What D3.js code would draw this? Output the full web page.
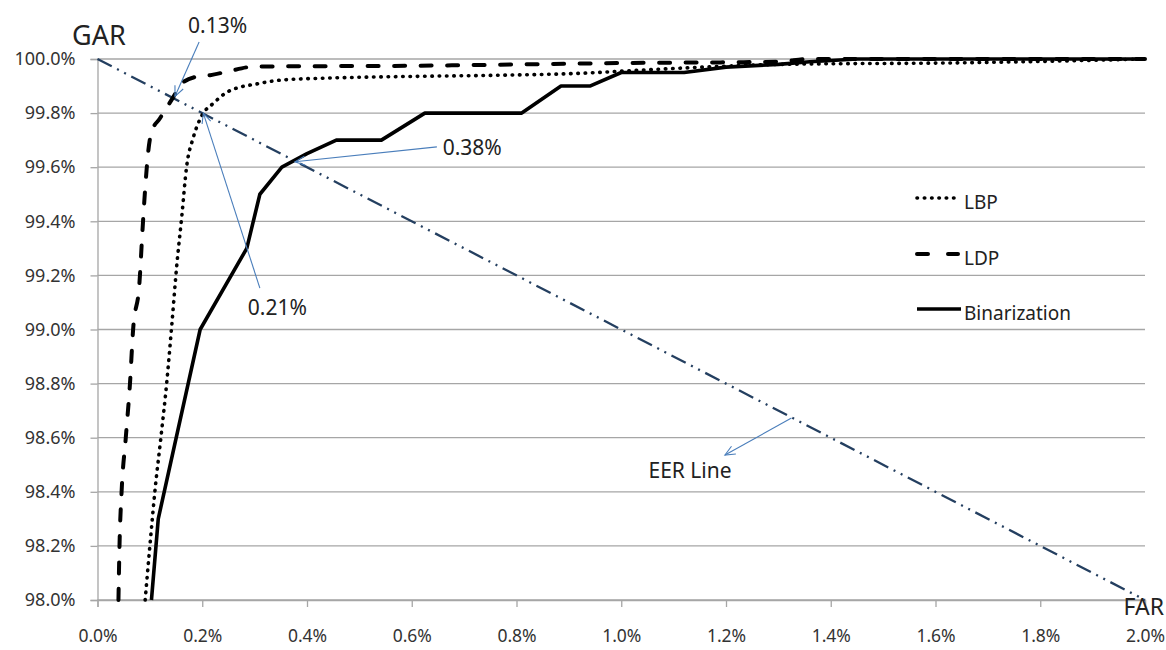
<!DOCTYPE html>
<html>
<head>
<meta charset="utf-8">
<script src="https://cdn.jsdelivr.net/npm/d3@7"></script>
<style>
  body { margin: 0; background: #fff; }
  svg text { font-family: "Noto Sans", "DejaVu Sans", sans-serif; fill: #262626; }
</style>
</head>
<body>
<div id="chart"></div>
<script>
// tick values (percent)
var farTicks = [0.0, 0.2, 0.4, 0.6, 0.8, 1.0, 1.2, 1.4, 1.6, 1.8, 2.0];
var garTicks = [98.0, 98.2, 98.4, 98.6, 98.8, 99.0, 99.2, 99.4, 99.6, 99.8, 100.0];

// LBP (dotted)
var lbpFar = [0.091, 0.100, 0.110, 0.121, 0.132, 0.142, 0.151, 0.161, 0.170, 0.183, 0.199, 0.221, 0.250, 0.310, 0.350, 0.450, 0.580, 0.770, 0.920, 1.020, 1.180, 1.300, 1.650, 1.850, 2.000];
var lbpGar = [98.00, 98.20, 98.41, 98.60, 98.80, 99.02, 99.23, 99.42, 99.60, 99.71, 99.79, 99.836, 99.88, 99.91, 99.922, 99.930, 99.935, 99.940, 99.947, 99.957, 99.972, 99.980, 99.986, 99.993, 100.0];

// LDP (dashed)
var ldpFar = [0.040, 0.042, 0.046, 0.054, 0.062, 0.068, 0.080, 0.086, 0.091, 0.097, 0.103, 0.119, 0.145, 0.161, 0.190, 0.215, 0.247, 0.300, 0.600, 1.000, 1.300, 1.360, 2.000];
var ldpGar = [98.00, 98.20, 98.40, 98.60, 98.80, 99.00, 99.17, 99.37, 99.52, 99.66, 99.73, 99.78, 99.86, 99.91, 99.935, 99.94, 99.953, 99.972, 99.975, 99.985, 99.99, 100.0, 100.0];

// Binarization (solid)
var binFar = [0.103, 0.116, 0.196, 0.285, 0.310, 0.352, 0.400, 0.456, 0.542, 0.625, 0.810, 0.885, 0.940, 1.000, 1.120, 1.200, 1.300, 1.360, 1.450, 2.000];
var binGar = [98.00, 98.30, 99.00, 99.30, 99.50, 99.60, 99.65, 99.70, 99.70, 99.80, 99.80, 99.90, 99.90, 99.95, 99.95, 99.97, 99.98, 99.99, 100.0, 100.0];

// EER line
var eerFar = [0.0, 2.0];
var eerGar = [100.0, 98.0];

var seriesNames = ['LBP', 'LDP', 'Binarization'];

// callouts: label anchor + arrow (tail -> tip), in FAR/GAR units
var noteText = ['0.13%', '0.21%', '0.38%', 'EER Line'];
var noteFar = [0.173, 0.287, 0.659, 1.052];
var noteGar = [100.096, 99.054, 99.645, 98.451];
var arrowFromFar = [0.194, 0.310, 0.648, 1.325];
var arrowFromGar = [100.063, 99.153, 99.675, 98.673];
var arrowToFar = [0.148, 0.202, 0.377, 1.198];
var arrowToGar = [99.862, 99.80, 99.62, 98.536];

var width = 1166, height = 650;
var gridColor = '#a6a6a6';

var x = d3.scaleLinear().domain([0, 2]).range([97.5, 1145]);
var y = d3.scaleLinear().domain([98, 100]).range([600, 59]);

var svg = d3.select('#chart').append('svg')
    .attr('width', width).attr('height', height);

function zip(fa, ga) {
    return fa.map(function(f, i) { return [f, ga[i]]; });
}

/* gridlines */
svg.append('g').selectAll('line').data(garTicks).enter().append('line')
    .attr('x1', x(0)).attr('x2', x(2))
    .attr('y1', function(d) { return y(d); }).attr('y2', function(d) { return y(d); })
    .style('stroke', gridColor).style('stroke-width', 1.3);

/* axes */
var yAxis = d3.axisLeft(y).tickValues(garTicks).tickSize(7).tickPadding(15)
    .tickFormat(function(d) { return d3.format('.1f')(d) + '%'; });
var xAxis = d3.axisBottom(x).tickValues(farTicks).tickSize(7).tickPadding(23)
    .tickFormat(function(d) { return d3.format('.1f')(d) + '%'; });

var gy = svg.append('g').attr('transform', 'translate(' + x(0) + ',0)').call(yAxis);
var gx = svg.append('g').attr('transform', 'translate(0,' + y(98) + ')').call(xAxis);
[gx, gy].forEach(function(g) {
    g.select('.domain').style('stroke', gridColor).style('stroke-width', 1.3);
    g.selectAll('.tick line').style('stroke', gridColor).style('stroke-width', 1.3);
    g.selectAll('.tick text').style('font-size', '18px').style('fill', '#333')
        .style('font-family', '"Noto Sans", sans-serif');
});
gx.selectAll('.tick text').style('font-size', '17.5px');

/* EER line */
var line = d3.line().x(function(d) { return x(d[0]); }).y(function(d) { return y(d[1]); });
var smooth = d3.line().curve(d3.curveMonotoneX)
    .x(function(d) { return x(d[0]); }).y(function(d) { return y(d[1]); });

svg.append('path').datum(zip(eerFar, eerGar)).attr('d', line)
    .style('fill', 'none').style('stroke', '#243f60').style('stroke-width', 2.3)
    .style('stroke-dasharray', '16,6,2,6,2,6');

/* series */
var styles = [
    { dash: '0.5,6.8', width: 3.6, cap: 'round' },
    { dash: '11,15.5', width: 4, cap: 'round' },
    { dash: null, width: 3.6, cap: 'butt' }
];
var seriesData = [zip(lbpFar, lbpGar), zip(ldpFar, ldpGar), zip(binFar, binGar)];

seriesData.forEach(function(data, i) {
    svg.append('path').datum(data)
        .attr('d', i === 2 ? line : smooth)
        .style('fill', 'none').style('stroke', '#000')
        .style('stroke-width', styles[i].width)
        .style('stroke-linecap', styles[i].cap)
        .style('stroke-linejoin', 'round')
        .style('stroke-dasharray', styles[i].dash);
});

/* arrows */
svg.append('defs').append('marker')
    .attr('id', 'openArrow').attr('viewBox', '-12 -7 14 14')
    .attr('refX', 0).attr('refY', 0)
    .attr('markerWidth', 14).attr('markerHeight', 14)
    .attr('markerUnits', 'userSpaceOnUse').attr('orient', 'auto')
    .append('path').attr('d', 'M-10,-4.5L0,0L-10,4.5')
    .style('fill', 'none').style('stroke', '#4a7ebb').style('stroke-width', 1.1);

noteText.forEach(function(t, i) {
    svg.append('line')
        .attr('x1', x(arrowFromFar[i])).attr('y1', y(arrowFromGar[i]))
        .attr('x2', x(arrowToFar[i])).attr('y2', y(arrowToGar[i]))
        .style('stroke', '#4a7ebb').style('stroke-width', 1.1)
        .attr('marker-end', 'url(#openArrow)');
    svg.append('text').attr('x', x(noteFar[i])).attr('y', y(noteGar[i]))
        .style('font-size', '21px').style('fill', '#222').text(t);
});

/* axis titles */
svg.append('text').attr('x', 72).attr('y', 45).style('font-size', '27px').style('fill', '#222').text('GAR');
svg.append('text').attr('x', 1164).attr('y', 615).style('text-anchor', 'end')
    .style('font-size', '23px').style('fill', '#222').text('FAR');

/* legend */
var legend = svg.append('g').attr('transform', 'translate(917,0)');
var legendY = [198, 254, 309];
seriesNames.forEach(function(name, i) {
    legend.append('line').attr('x1', 0).attr('x2', i === 2 ? 44 : 41)
        .attr('y1', legendY[i]).attr('y2', legendY[i])
        .style('stroke', '#000').style('stroke-width', styles[i].width)
        .style('stroke-linecap', styles[i].cap)
        .style('stroke-dasharray', i === 1 ? '11,20' : styles[i].dash);
    legend.append('text').attr('x', 47).attr('y', legendY[i] + 11)
        .style('font-size', '19px').style('fill', '#222').text(name);
});
</script>
</body>
</html>
